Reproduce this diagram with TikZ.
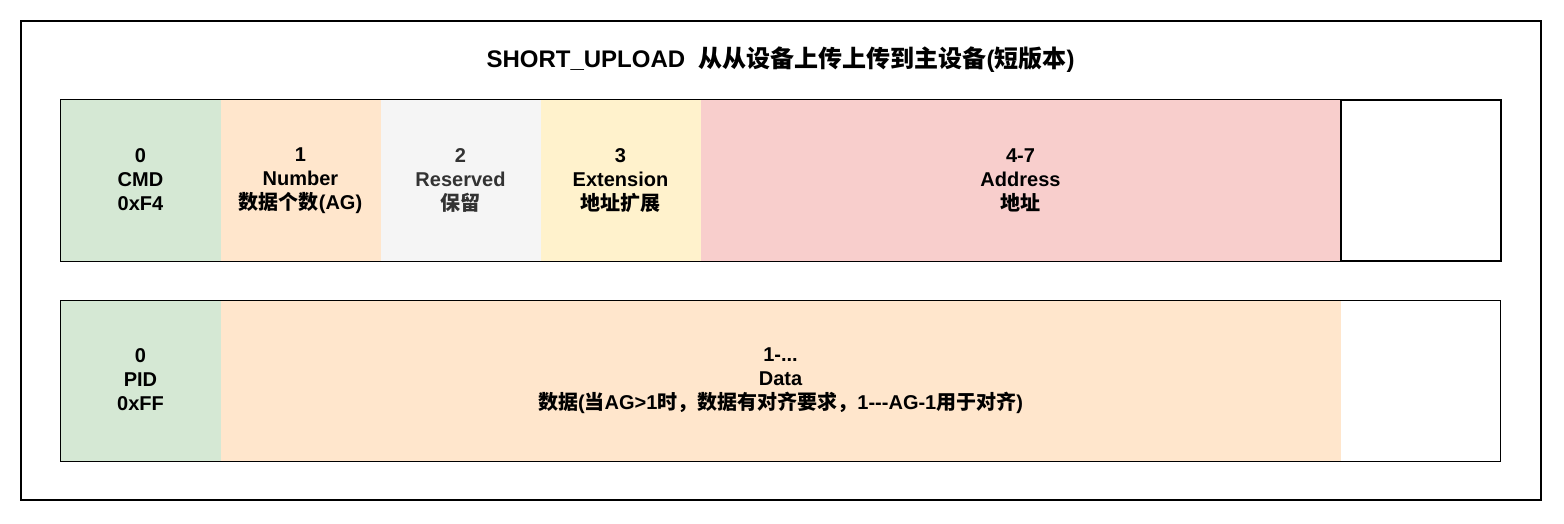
\documentclass[tikz,border=0pt]{standalone}
\usepackage{fontspec}
\setmainfont{Liberation Sans}
\newfontfamily\cjkf{Noto Sans CJK SC}
\newcommand{\zh}[1]{{\cjkf #1}}
\newcommand{\cjkstrut}{\vphantom{\zh{数}}}
\definecolor{cgreen}{HTML}{D5E8D4}
\definecolor{corange}{HTML}{FFE6CC}
\definecolor{cgray}{HTML}{F5F5F5}
\definecolor{cgraytext}{HTML}{333333}
\definecolor{cyellow}{HTML}{FFF2CC}
\definecolor{cred}{HTML}{F8CECC}
\begin{document}
\begin{tikzpicture}[x=1pt,y=-1pt,
  cell/.style={inner sep=0pt, outer sep=0pt, minimum height=161pt, align=center,
    font=\fontsize{20}{24}\selectfont\bfseries},
  title/.style={inner sep=0pt, font=\fontsize{24}{26}\selectfont\bfseries},
  frame/.style={draw=black, line width=2pt},
  rowframe/.style={draw=black, line width=1pt}]
\useasboundingbox (0,0) rectangle (1564,524);
\draw[frame] (21,21) rectangle (1541,500);
\node[title] (t) at (780.5,60) {SHORT\_UPLOAD\ \ \zh{从从设备上传上传到主设备}(\zh{短版本})};
% row 1
\node[cell, fill=cgreen, minimum width=160pt] (c0) at (140.5,180.5) {0\\CMD\\0xF4\cjkstrut};
\node[cell, fill=corange, minimum width=160pt, anchor=west] (c1) at (c0.east) {1\\Number\\\zh{数据个数}(AG)\cjkstrut};
\node[cell, fill=cgray, text=cgraytext, minimum width=160pt, anchor=west] (c2) at (c1.east) {2\\Reserved\\\zh{保留}\cjkstrut};
\node[cell, fill=cyellow, minimum width=160pt, anchor=west] (c3) at (c2.east) {3\\Extension\\\zh{地址扩展}\cjkstrut};
\node[cell, fill=cred, minimum width=640pt, anchor=west] (c4) at (c3.east) {4-7\\Address\\\zh{地址}\cjkstrut};
\node[cell, fill=white, minimum width=160pt, anchor=west] (c5) at (c4.east) {};
\draw[rowframe] (c0.north west) rectangle (c5.south east);
\draw[draw=black, line width=2pt] (c5.north west) rectangle (c5.south east);
% row 2
\node[cell, fill=cgreen, minimum width=160pt] (p0) at (140.5,380.5) {0\\PID\\0xFF\cjkstrut};
\node[cell, fill=corange, minimum width=1120pt, anchor=west] (p1) at (p0.east) {1-...\\Data\\\zh{数据}(\zh{当}AG>1\zh{时，数据有对齐要求，}1-{}-{}-AG-1\zh{用于对齐})\cjkstrut};
\node[cell, fill=white, minimum width=160pt, anchor=west] (p2) at (p1.east) {};
\draw[rowframe] (p0.north west) rectangle (p2.south east);
\end{tikzpicture}
\end{document}
